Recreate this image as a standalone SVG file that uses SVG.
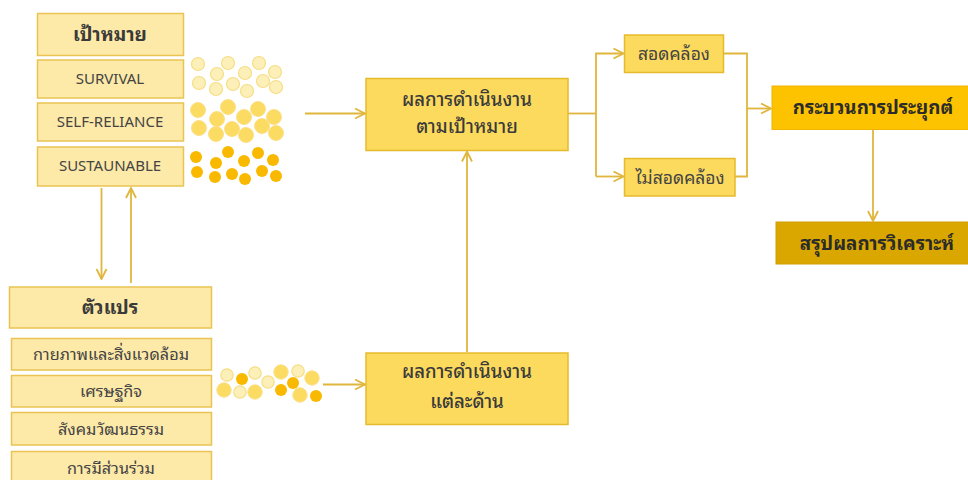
<svg xmlns="http://www.w3.org/2000/svg" width="968" height="480" viewBox="0 0 968 480">
  <defs>
    <marker id="chev" viewBox="0 0 12 12" refX="11" refY="6" markerWidth="12" markerHeight="12" markerUnits="userSpaceOnUse" orient="auto">
      <path d="M1,1 L11,6 L1,11" fill="none" stroke="#e0b63c" stroke-width="1.8"/>
    </marker>
    <style>
      text { font-family: "Noto Sans Thai Looped", "Noto Sans Thai", "Leelawadee UI", Tahoma, "Noto Sans", "DejaVu Sans", sans-serif; fill: #3a3a3a; text-anchor: middle; }
      .pale { fill: #fde9a8; stroke: #e9c453; stroke-width: 1.5; }
      .mid { fill: #fcda5e; stroke: #e6ba2e; stroke-width: 1.5; }
      .deep { fill: #fdc300; stroke: #f0b400; stroke-width: 1; }
      .dark { fill: #d9a700; stroke: #cf9f00; stroke-width: 1; }
      .t-head { font-size: 19px; font-weight: bold; }
      .t-latin { font-size: 15px; fill: #444; }
      .t-item { font-size: 16.3px; fill: #444; }
      .t-mid { font-size: 18.6px; font-weight: 500; }
      .t-small { font-size: 17.5px; fill: #444; }
      .t-bold { font-size: 18.8px; font-weight: bold; fill: #2b2b2b; }
      .link { fill: none; stroke: #e0b63c; stroke-width: 1.8; }
      .d1 { fill: #fcefb8; stroke: #f6de86; stroke-width: 1.2; }
      .d2 { fill: #fcdb62; stroke: #fbe08a; stroke-width: 1; }
      .d3 { fill: #f8b900; }
    </style>
  </defs>

  <!-- goal column -->
  <g id="goal">
    <rect class="pale" x="37.5" y="13.5" width="146" height="42"/>
    <text class="t-head" x="110" y="41">เป้าหมาย</text>
  </g>
  <g id="survival">
    <rect class="pale" x="37.5" y="60" width="146" height="38"/>
    <text class="t-latin" x="110" y="84">SURVIVAL</text>
  </g>
  <g id="self-reliance">
    <rect class="pale" x="37.5" y="103" width="146" height="38"/>
    <text class="t-latin" x="110" y="127">SELF-RELIANCE</text>
  </g>
  <g id="sustainable">
    <rect class="pale" x="37.5" y="147" width="146" height="39"/>
    <text class="t-latin" x="110" y="171">SUSTAUNABLE</text>
  </g>

  <!-- dot clusters -->
  <g id="dots-goal">
    <circle class="d1" cx="198" cy="64" r="6.5"/>
    <circle class="d1" cx="228" cy="63" r="6.5"/>
    <circle class="d1" cx="259" cy="63" r="6.5"/>
    <circle class="d1" cx="217" cy="74" r="6.5"/>
    <circle class="d1" cx="245" cy="73" r="6.5"/>
    <circle class="d1" cx="275" cy="72" r="6.5"/>
    <circle class="d1" cx="199" cy="83" r="6.5"/>
    <circle class="d1" cx="233" cy="84" r="6.5"/>
    <circle class="d1" cx="263" cy="81" r="6.5"/>
    <circle class="d1" cx="216" cy="89" r="6.5"/>
    <circle class="d1" cx="247" cy="91" r="6.5"/>
    <circle class="d1" cx="276" cy="87" r="6.5"/>

    <circle class="d2" cx="198" cy="110" r="7.5"/>
    <circle class="d2" cx="228" cy="107" r="7.5"/>
    <circle class="d2" cx="258" cy="109" r="7.5"/>
    <circle class="d2" cx="217" cy="119" r="7.5"/>
    <circle class="d2" cx="244" cy="117" r="7.5"/>
    <circle class="d2" cx="274" cy="117" r="7.5"/>
    <circle class="d2" cx="199" cy="128" r="7.5"/>
    <circle class="d2" cx="232" cy="129" r="7.5"/>
    <circle class="d2" cx="262" cy="126" r="7.5"/>
    <circle class="d2" cx="216" cy="134" r="7.5"/>
    <circle class="d2" cx="246" cy="135" r="7.5"/>
    <circle class="d2" cx="276" cy="133" r="7.5"/>

    <circle class="d3" cx="196" cy="157" r="6"/>
    <circle class="d3" cx="228" cy="152" r="6"/>
    <circle class="d3" cx="258" cy="153" r="6"/>
    <circle class="d3" cx="216" cy="163" r="6"/>
    <circle class="d3" cx="244" cy="161" r="6"/>
    <circle class="d3" cx="273" cy="160" r="6"/>
    <circle class="d3" cx="197" cy="172" r="6"/>
    <circle class="d3" cx="232" cy="174" r="6"/>
    <circle class="d3" cx="262" cy="171" r="6"/>
    <circle class="d3" cx="215" cy="177" r="6"/>
    <circle class="d3" cx="245" cy="179" r="6"/>
    <circle class="d3" cx="276" cy="176" r="6"/>
  </g>

  <!-- variables column -->
  <g id="variables">
    <rect class="pale" x="9.5" y="287" width="202" height="41"/>
    <text class="t-head" x="110" y="314">ตัวแปร</text>
  </g>
  <g id="physical">
    <rect class="pale" x="11.5" y="338.5" width="200" height="31.5"/>
    <text class="t-item" x="111" y="360">กายภาพและสิ่งแวดล้อม</text>
  </g>
  <g id="economy">
    <rect class="pale" x="11.5" y="375.5" width="200" height="31.5"/>
    <text class="t-item" x="111" y="397">เศรษฐกิจ</text>
  </g>
  <g id="society">
    <rect class="pale" x="11.5" y="412.5" width="200" height="32.5"/>
    <text class="t-item" x="111" y="435">สังคมวัฒนธรรม</text>
  </g>
  <g id="participation">
    <rect class="pale" x="11.5" y="451.5" width="200" height="34"/>
    <text class="t-item" x="111" y="474">การมีส่วนร่วม</text>
  </g>

  <g id="dots-variables">
    <circle class="d1" cx="227" cy="375" r="6.2"/>
    <circle class="d1" cx="255" cy="373" r="6.2"/>
    <circle class="d1" cx="268" cy="382" r="6.2"/>
    <circle class="d1" cx="298" cy="371" r="6.2"/>
    <circle class="d1" cx="240" cy="392" r="6.2"/>
    <circle class="d2" cx="281" cy="372" r="7.2"/>
    <circle class="d2" cx="312" cy="378" r="7.2"/>
    <circle class="d2" cx="224" cy="390" r="7.2"/>
    <circle class="d2" cx="255" cy="392" r="7.2"/>
    <circle class="d2" cx="300" cy="395" r="7.2"/>
    <circle class="d3" cx="242" cy="379" r="6"/>
    <circle class="d3" cx="293" cy="383" r="6"/>
    <circle class="d3" cx="281" cy="390" r="6"/>
    <circle class="d3" cx="316" cy="396" r="6"/>
  </g>

  <!-- outcome boxes -->
  <g id="result-goal">
    <rect class="mid" x="366" y="78.5" width="202" height="72"/>
    <text class="t-mid" x="467" y="106">ผลการดำเนินงาน</text>
    <text class="t-mid" x="467" y="133">ตามเป้าหมาย</text>
  </g>
  <g id="result-aspect">
    <rect class="mid" x="366" y="353" width="202" height="71.5"/>
    <text class="t-mid" x="467" y="378">ผลการดำเนินงาน</text>
    <text class="t-mid" x="467" y="408">แต่ละด้าน</text>
  </g>
  <g id="consistent">
    <rect class="mid" x="624.5" y="35" width="99" height="37.5"/>
    <text class="t-small" x="674" y="60">สอดคล้อง</text>
  </g>
  <g id="inconsistent">
    <rect class="mid" x="624.5" y="158.5" width="110.5" height="37.5"/>
    <text class="t-small" x="680" y="184">ไม่สอดคล้อง</text>
  </g>
  <g id="apply">
    <rect class="deep" x="772" y="86" width="200" height="43.5"/>
    <text class="t-bold" x="873" y="114">กระบวนการประยุกต์</text>
  </g>
  <g id="summary">
    <rect class="dark" x="776" y="222" width="196" height="42"/>
    <text class="t-bold" x="877" y="250">สรุปผลการวิเคราะห์</text>
  </g>

  <!-- connectors -->
  <g id="connectors">
    <path class="link" d="M101.5,188 V279" marker-end="url(#chev)"/>
    <path class="link" d="M131,283 V188" marker-end="url(#chev)"/>
    <path class="link" d="M305,113.5 H365" marker-end="url(#chev)"/>
    <path class="link" d="M323,384.5 H365" marker-end="url(#chev)"/>
    <path class="link" d="M467,352 V151.5" marker-end="url(#chev)"/>
    <path class="link" d="M568,113.5 H596"/>
    <path class="link" d="M596,176.5 V53.5 H623.5" marker-end="url(#chev)"/>
    <path class="link" d="M596,176.5 H623.5" marker-end="url(#chev)"/>
    <path class="link" d="M723.5,53.5 H747 V176.5 H735"/>
    <path class="link" d="M747,108.5 H771" marker-end="url(#chev)"/>
    <path class="link" d="M873,129.5 V221" marker-end="url(#chev)"/>
  </g>
</svg>
